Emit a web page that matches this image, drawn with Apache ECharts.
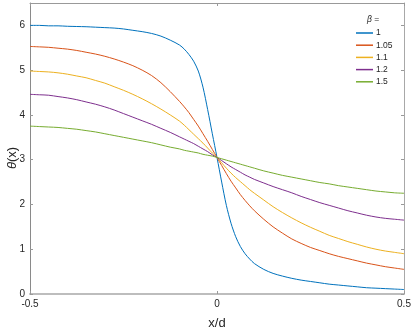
<!DOCTYPE html>
<html>
<head>
<meta charset="utf-8">
<script src="https://cdn.jsdelivr.net/npm/echarts@6/dist/echarts.min.js"></script>
<style>
  html, body { margin: 0; padding: 0; background: #fff; }
  #chart { width: 415px; height: 333px; }
</style>
</head>
<body>
<div id="chart"></div>
<script>
  // x/d sample positions (step 0.025, and 0.0125 near the centre where the curves are steep)
  var xs = [-0.5, -0.475, -0.45, -0.425, -0.4, -0.375, -0.35, -0.325, -0.3, -0.275, -0.25, -0.225,
    -0.2, -0.175, -0.15, -0.125, -0.1, -0.0875, -0.075, -0.0625, -0.05, -0.0375, -0.025, -0.0125,
    0, 0.0125, 0.025, 0.0375, 0.05, 0.0625, 0.075, 0.0875, 0.1, 0.125, 0.15, 0.175,
    0.2, 0.225, 0.25, 0.275, 0.3, 0.325, 0.35, 0.375, 0.4, 0.425, 0.45, 0.475, 0.5];

  var betaNames = ['1', '1.05', '1.1', '1.2', '1.5'];
  var lineColors = ['#0072BD', '#D95319', '#EDB120', '#7E2F8E', '#77AC30'];

  // theta(x)
  var thetaB100 = [6.00, 6.00, 5.99, 5.99, 5.98, 5.975, 5.97, 5.96, 5.95, 5.94, 5.92, 5.89,
    5.86, 5.82, 5.76, 5.67, 5.56, 5.47, 5.35, 5.20, 4.98, 4.62, 4.12, 3.58,
    3.05, 2.50, 1.98, 1.58, 1.28, 1.06, 0.90, 0.78, 0.68, 0.55, 0.46, 0.40,
    0.35, 0.31, 0.28, 0.25, 0.22, 0.20, 0.18, 0.16, 0.14, 0.13, 0.12, 0.11, 0.10];
  var thetaB105 = [5.53, 5.52, 5.51, 5.49, 5.47, 5.44, 5.40, 5.36, 5.31, 5.25, 5.18, 5.10,
    5.00, 4.88, 4.72, 4.52, 4.30, 4.18, 4.05, 3.90, 3.75, 3.58, 3.41, 3.23,
    3.05, 2.87, 2.69, 2.52, 2.37, 2.22, 2.09, 1.97, 1.86, 1.67, 1.50, 1.36,
    1.23, 1.13, 1.04, 0.97, 0.90, 0.84, 0.79, 0.74, 0.69, 0.65, 0.61, 0.58, 0.55];
  var thetaB110 = [4.98, 4.97, 4.96, 4.94, 4.91, 4.87, 4.83, 4.77, 4.71, 4.63, 4.55, 4.46,
    4.36, 4.25, 4.13, 4.00, 3.86, 3.77, 3.67, 3.57, 3.47, 3.37, 3.26, 3.15,
    3.05, 2.93, 2.81, 2.70, 2.60, 2.51, 2.42, 2.33, 2.25, 2.10, 1.95, 1.82,
    1.70, 1.59, 1.49, 1.40, 1.31, 1.24, 1.17, 1.11, 1.05, 1.00, 0.96, 0.93, 0.90];
  var thetaB120 = [4.46, 4.45, 4.44, 4.41, 4.38, 4.34, 4.29, 4.24, 4.18, 4.11, 4.03, 3.95,
    3.87, 3.79, 3.70, 3.61, 3.51, 3.46, 3.41, 3.36, 3.30, 3.24, 3.18, 3.11,
    3.05, 2.98, 2.91, 2.84, 2.78, 2.72, 2.66, 2.61, 2.56, 2.48, 2.40, 2.33,
    2.26, 2.18, 2.11, 2.04, 1.98, 1.92, 1.86, 1.81, 1.76, 1.72, 1.69, 1.67, 1.65];
  var thetaB150 = [3.75, 3.74, 3.73, 3.72, 3.70, 3.68, 3.65, 3.62, 3.58, 3.54, 3.50, 3.46,
    3.42, 3.38, 3.33, 3.28, 3.24, 3.21, 3.19, 3.17, 3.15, 3.12, 3.10, 3.08,
    3.05, 3.02, 2.99, 2.96, 2.93, 2.90, 2.87, 2.84, 2.81, 2.75, 2.70, 2.65,
    2.61, 2.57, 2.53, 2.49, 2.46, 2.42, 2.39, 2.36, 2.33, 2.30, 2.28, 2.26, 2.25];
  var thetaSets = [thetaB100, thetaB105, thetaB110, thetaB120, thetaB150];

  var yTicks = [0, 1, 2, 3, 4, 5, 6];

  var font = '"Liberation Sans", Arial, sans-serif';
  var textCol = '#262626';

  var chart = echarts.init(document.getElementById('chart'));

  var series = thetaSets.map(function (vals, i) {
    return {
      name: betaNames[i],
      type: 'line',
      xAxisIndex: 0,
      yAxisIndex: 0,
      symbol: 'none',
      smooth: 0.3,
      color: lineColors[i],
      lineStyle: { width: 1, color: lineColors[i] },
      data: xs.map(function (x, k) { return [x, vals[k]]; })
    };
  });

  var option = {
    animation: false,
    backgroundColor: '#fff',
    textStyle: { fontFamily: font },
    grid: { left: 30, right: 11, top: 3, bottom: 39, containLabel: false, outerBoundsMode: 'none' },
    legend: {
      orient: 'vertical',
      left: 356,
      top: 28,
      icon: 'rect',
      itemWidth: 17,
      itemHeight: 1.5,
      itemGap: 2.2,
      padding: 0,
      data: betaNames,
      textStyle: { color: textCol, fontSize: 8.5, lineHeight: 10, fontFamily: font, padding: [0, 0, 0, -2] }
    },
    graphic: [{
      type: 'text',
      left: 367,
      top: 15,
      style: {
        text: '{i|β} =',
        rich: {
          i: { fontStyle: 'italic', fontSize: 8.5, fill: textCol, fontFamily: font }
        },
        fontSize: 8.5,
        fill: textCol,
        fontFamily: font
      }
    }, {
      // y-axis title, rotated
      type: 'text',
      x: 12.5,
      y: 158,
      rotation: Math.PI / 2,
      style: {
        text: '{i|θ}(x)',
        rich: {
          i: { fontStyle: 'italic', fontSize: 13, fill: textCol, fontFamily: font }
        },
        fontSize: 13,
        fill: textCol,
        fontFamily: font,
        align: 'center',
        verticalAlign: 'middle'
      }
    }],
    xAxis: [{
      type: 'value',
      position: 'bottom',
      min: -0.5,
      max: 0.5,
      interval: 0.5,
      name: 'x/d',
      nameLocation: 'middle',
      nameGap: 23,
      nameTextStyle: { color: textCol, fontSize: 13, fontFamily: font },
      axisLine: { show: true, onZero: false, lineStyle: { color: '#bdbdbd', width: 2 } },
      axisTick: { show: true, inside: true, length: 3, lineStyle: { color: '#999' } },
      axisLabel: { color: textCol, fontSize: 10, margin: 5, fontFamily: font },
      splitLine: { show: false }
    }, {
      type: 'value',
      position: 'top',
      min: -0.5,
      max: 0.5,
      interval: 0.5,
      axisLine: { show: true, onZero: false, lineStyle: { color: '#999', width: 1 } },
      axisTick: { show: true, inside: true, length: 3, lineStyle: { color: '#999' } },
      axisLabel: { show: false },
      splitLine: { show: false }
    }],
    yAxis: [{
      type: 'value',
      position: 'left',
      min: 0,
      max: 6.5,
      interval: 1,
      axisLine: { show: true, onZero: false, lineStyle: { color: '#8a8a8a', width: 1 } },
      axisTick: { show: true, inside: true, length: 3, customValues: yTicks, lineStyle: { color: '#999' } },
      axisLabel: { color: textCol, fontSize: 10, margin: 5, customValues: yTicks, fontFamily: font },
      splitLine: { show: false }
    }, {
      type: 'value',
      position: 'right',
      min: 0,
      max: 6.5,
      interval: 1,
      axisLine: { show: true, onZero: false, lineStyle: { color: '#a8a8a8', width: 1 } },
      axisTick: { show: true, inside: true, length: 3, customValues: yTicks, lineStyle: { color: '#999' } },
      axisLabel: { show: false },
      splitLine: { show: false }
    }],
    series: series
  };

  chart.setOption(option);
</script>
</body>
</html>
